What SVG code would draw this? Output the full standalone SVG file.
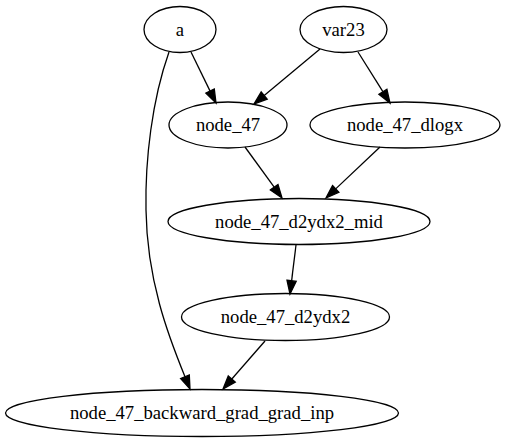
<svg xmlns="http://www.w3.org/2000/svg" width="505" height="443" viewBox="0 0 505 443">
<style>
.n ellipse{fill:none;stroke:#000;stroke-width:1.3}
.n text{font-family:"Liberation Serif","Times New Roman",serif;font-size:18.67px;text-anchor:middle;fill:#000}
.e path{fill:none;stroke:#000;stroke-width:1.3}
.e polygon{fill:#000;stroke:#000;stroke-width:1.3}
</style>
<rect width="505" height="443" fill="#fff"/>
<g id="edges" class="e">
<path d="M191,52 L210.1,91.1"/><polygon points="205.9,93.1 214.3,89.0 216,103"/>
<path d="M320,49 L264.2,95.5"/><polygon points="261.2,91.9 267.2,99.1 254,104"/>
<path d="M358,52 L382.9,91.7"/><polygon points="378.9,94.2 386.9,89.2 390,103"/>
<path d="M245,147 L274.2,187.2"/><polygon points="270.4,189.9 278.0,184.5 282,198"/>
<path d="M380,147 L335.7,188.9"/><polygon points="332.5,185.5 338.9,192.3 326,198"/>
<path d="M296,245 L291.6,280.8"/><polygon points="287.0,280.2 296.2,281.4 290,294"/>
<path d="M265,341 L231.8,379.0"/><polygon points="228.3,375.9 235.3,382.1 223,389"/>
<path d="M169,52 C152,100 145,160 146,210 C147,280 168,335 185,376.7"/><polygon points="180.6,378.5 189.3,374.9 190,389"/>
</g>
<g id="a" class="n"><ellipse cx="180" cy="29.5" rx="36" ry="23"/><text x="180" y="35.5">a</text></g>
<g id="var23" class="n"><ellipse cx="343.5" cy="29.5" rx="43.5" ry="23"/><text x="343.5" y="35.5">var23</text></g>
<g id="node_47" class="n"><ellipse cx="228" cy="125" rx="59" ry="23"/><text x="228" y="131">node_47</text></g>
<g id="node_47_dlogx" class="n"><ellipse cx="405" cy="125" rx="95" ry="23"/><text x="405" y="131">node_47_dlogx</text></g>
<g id="node_47_d2ydx2_mid" class="n"><ellipse cx="299" cy="221.5" rx="131" ry="23"/><text x="299" y="227.5">node_47_d2ydx2_mid</text></g>
<g id="node_47_d2ydx2" class="n"><ellipse cx="285.5" cy="317" rx="104" ry="23.5"/><text x="285.5" y="323">node_47_d2ydx2</text></g>
<g id="node_47_backward_grad_grad_inp" class="n"><ellipse cx="202" cy="413" rx="196.5" ry="23.5"/><text x="202" y="419">node_47_backward_grad_grad_inp</text></g>
</svg>
